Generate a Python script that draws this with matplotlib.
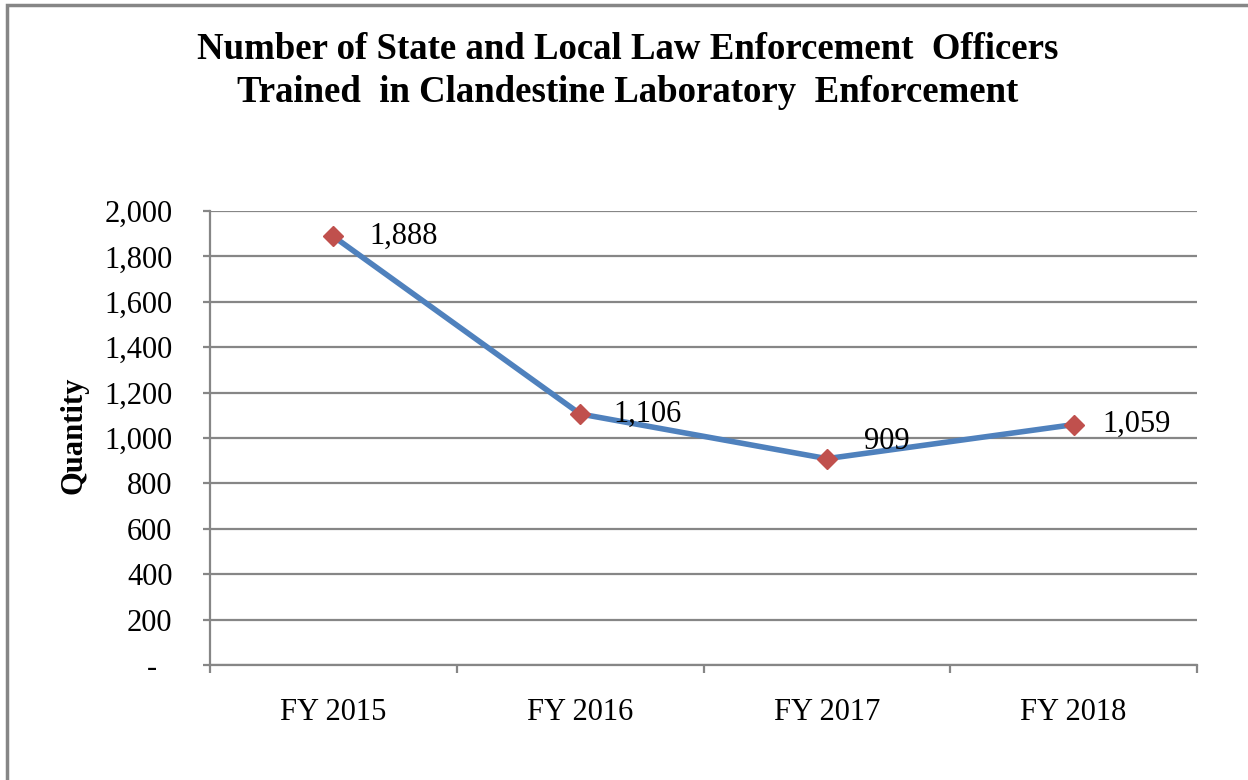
import matplotlib.pyplot as plt
from matplotlib.patches import Rectangle
from matplotlib.ticker import FuncFormatter

years = ['FY 2015', 'FY 2016', 'FY 2017', 'FY 2018']
officers = [1888, 1106, 909, 1059]
value_labels = ['1,888', '1,106', '909', '1,059']
# label nudges in points (Excel put the 909 label a little higher)
label_offsets = [(26, 0), (24, 0), (27, 12), (21, 0)]

plt.rcParams['font.family'] = ['Liberation Serif', 'DejaVu Serif']

fig = plt.figure(figsize=(12.48, 7.8), dpi=100)
ax = fig.add_axes([210 / 1248, 1 - 665 / 780, 987 / 1248, 454 / 780])

grey = '#868686'
x = list(range(len(years)))
ax.plot(x, officers, color='#4F81BD', lw=4, marker='D', ms=10,
        mfc='#C0504D', mec='#C0504D', zorder=3, solid_capstyle='round')
for xi, v, lab, off in zip(x, officers, value_labels, label_offsets):
    ax.annotate(lab, (xi, v), xytext=off, textcoords='offset points',
                ha='left', va='center', fontsize=22, color='black', zorder=4)

ax.set_xlim(-0.5, len(years) - 0.5)
ax.set_ylim(0, 2000)
ax.set_yticks(range(0, 2001, 200))
ax.yaxis.set_major_formatter(FuncFormatter(lambda v, p: '-  ' if v == 0 else f'{int(v):,}'))
ax.set_xticks(x)
ax.set_xticklabels(years)
ax.set_xticks([i - 0.5 for i in range(len(years) + 1)], minor=True)

ax.grid(axis='y', color=grey, lw=1.6, zorder=0)
ax.set_axisbelow(True)
for s in ['top', 'right']:
    ax.spines[s].set_visible(False)
for s in ['left', 'bottom']:
    ax.spines[s].set_color(grey)
    ax.spines[s].set_linewidth(1.6)

ax.tick_params(axis='y', length=5, width=1.6, color=grey, pad=22, labelsize=22)
ax.tick_params(axis='x', which='major', length=0, pad=24, labelsize=22)
ax.tick_params(axis='x', which='minor', length=6, width=1.6, color=grey)

fig.text(74 / 1248, 1 - 435 / 780, 'Quantity', rotation=90, ha='center', va='center',
         fontsize=22, fontweight='bold')
fig.text(628 / 1248, 1 - 71 / 780,
         'Number of State and Local Law Enforcement  Officers\nTrained  in Clandestine Laboratory  Enforcement',
         ha='center', va='center', fontsize=26.5, fontweight='bold', linespacing=1.3)

fig.patches.append(Rectangle((7 / 1248, -0.1), 1.2, 1 - 5 / 780 + 0.1, transform=fig.transFigure,
                             fill=False, ec=grey, lw=2.5))

fig.savefig('out.png', dpi=100, facecolor='white')
